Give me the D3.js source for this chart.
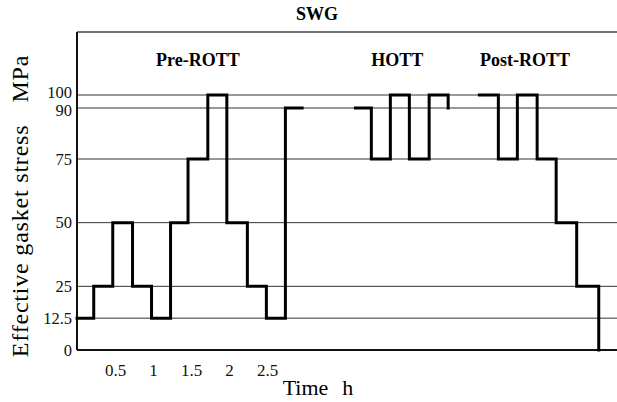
<!DOCTYPE html>
<html>
<head>
<meta charset="utf-8">
<script src="https://cdn.jsdelivr.net/npm/d3@7"></script>
<style>
  body { margin: 0; background: #fff; }
  svg { display: block; font-family: "Liberation Serif", "Times New Roman", serif; }
</style>
</head>
<body>
<svg id="chart" width="617" height="402"></svg>
<script>
// stress levels marked on the y axis (MPa)
const yTicks = [0, 12.5, 25, 50, 75, 90, 100];
// time tick labels (h)
const xTicks = [0.5, 1, 1.5, 2, 2.5];

// Pre-ROTT step sequence
const preTime = [0, 0.22, 0.47, 0.73, 0.98, 1.23, 1.46, 1.72, 1.97, 2.24, 2.49, 2.74, 2.96];
const preStress = [12.5, 25, 50, 25, 12.5, 50, 75, 100, 50, 25, 12.5, 90, 90];

// HOTT step sequence
const hottTime = [3.66, 3.87, 4.12, 4.37, 4.63, 4.88];
const hottStress = [90, 75, 100, 75, 100, 90];

// Post-ROTT step sequence
const postTime = [5.29, 5.54, 5.79, 6.05, 6.30, 6.57, 6.86];
const postStress = [100, 75, 100, 75, 50, 25, 0];

const phases = ["Pre-ROTT", "HOTT", "Post-ROTT"];
const phaseCenter = [1.59, 4.21, 5.89]; // time at label centre

const svg = d3.select("#chart");
const W = 617;
const mLeft = 77, mTop = 32, mBottom = 350;

const x = d3.scaleLinear().domain([0, 7.1]).range([mLeft, W]);
// the original drawing squeezes the 90-100 band, so the scale is piecewise
const y = d3.scaleLinear().domain([0, 75, 90, 100]).range([mBottom, 159, 108, 95]);

// grid lines
svg.append("g")
  .selectAll("line")
  .data(yTicks.filter(d => d > 0))
  .join("line")
  .attr("x1", mLeft).attr("x2", W)
  .attr("y1", d => y(d)).attr("y2", d => y(d))
  .attr("stroke", "#333")
  .attr("stroke-width", 1);

// frame
svg.append("line").attr("x1", mLeft).attr("x2", W).attr("y1", mTop).attr("y2", mTop)
  .attr("stroke", "#444").attr("stroke-width", 1.5);
svg.append("line").attr("x1", mLeft).attr("x2", W).attr("y1", mBottom).attr("y2", mBottom)
  .attr("stroke", "#111").attr("stroke-width", 2);
svg.append("line").attr("x1", mLeft).attr("x2", mLeft).attr("y1", mTop).attr("y2", mBottom)
  .attr("stroke", "#111").attr("stroke-width", 2);

// axes
const yAxis = svg.append("g")
  .attr("transform", `translate(${mLeft},0)`)
  .call(d3.axisLeft(y).tickValues(yTicks).tickSize(0).tickPadding(5).tickFormat(d => String(d)));
yAxis.select(".domain").remove();
yAxis.selectAll("text")
  .attr("font-family", "Liberation Serif")
  .attr("font-size", 16.5)
  .attr("fill", "#111")
  .attr("dy", d => d === 100 ? "0.14em" : d === 90 ? "0.46em" : "0.32em");

const xAxis = svg.append("g")
  .attr("transform", `translate(0,${mBottom})`)
  .call(d3.axisBottom(x).tickValues(xTicks).tickSize(0).tickPadding(14).tickFormat(d => String(d)));
xAxis.select(".domain").remove();
xAxis.selectAll("text")
  .attr("font-family", "Liberation Serif")
  .attr("font-size", 17)
  .attr("fill", "#111");

// step lines
const line = d3.line()
  .x(d => x(d[0]))
  .y(d => y(d[1]))
  .curve(d3.curveStepAfter);

const series = [
  d3.zip(preTime, preStress),
  d3.zip(hottTime, hottStress),
  d3.zip(postTime, postStress)
];

svg.append("g")
  .selectAll("path")
  .data(series)
  .join("path")
  .attr("d", line)
  .attr("fill", "none")
  .attr("stroke", "#000")
  .attr("stroke-width", 3)
  .attr("stroke-linejoin", "miter")
  .attr("stroke-linecap", "square");

// phase labels
svg.append("g")
  .selectAll("text")
  .data(phases)
  .join("text")
  .attr("x", (d, i) => x(phaseCenter[i]))
  .attr("y", 66)
  .attr("text-anchor", "middle")
  .attr("font-weight", "bold")
  .attr("font-size", 18)
  .text(d => d);

// title
svg.append("text")
  .attr("x", 317).attr("y", 20)
  .attr("text-anchor", "middle")
  .attr("font-weight", "bold")
  .attr("font-size", 18)
  .text("SWG");

// axis titles
const yt = svg.append("text")
  .attr("transform", "translate(28,206) rotate(-90)")
  .attr("text-anchor", "middle")
  .attr("font-size", 24)
  .attr("letter-spacing", 0.8);
yt.append("tspan").text("Effective gasket stress");
yt.append("tspan").attr("dx", 22).text("MPa");

const xt = svg.append("text")
  .attr("x", 318).attr("y", 395)
  .attr("text-anchor", "middle")
  .attr("font-size", 22);
xt.append("tspan").text("Time");
xt.append("tspan").attr("dx", 14).text("h");
</script>
</body>
</html>
